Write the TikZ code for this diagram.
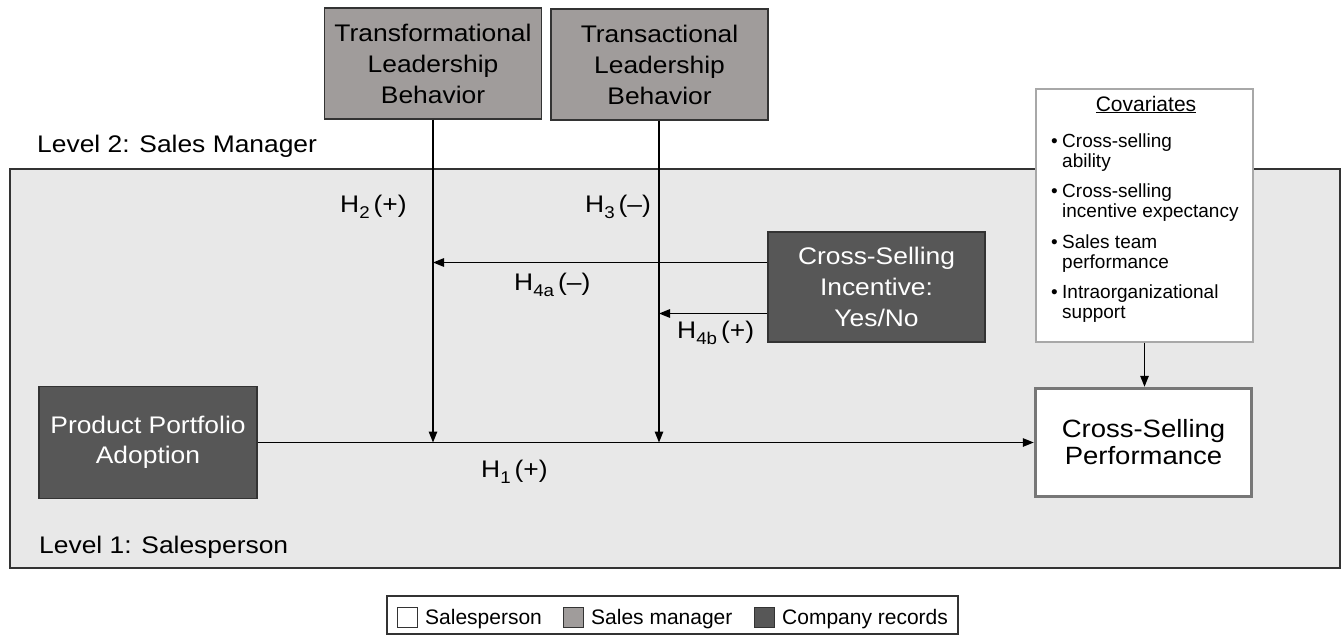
\documentclass[tikz,border=0pt]{standalone}
\usepackage{fontspec}
\setmainfont{Liberation Sans}
\newfontfamily\widefont{Liberation Sans}[FakeStretch=1.1]
\usetikzlibrary{arrows.meta}
\definecolor{lvlfill}{HTML}{E8E8E8}
\definecolor{mgrfill}{HTML}{A09C9B}
\definecolor{recfill}{HTML}{575757}
\definecolor{perfborder}{HTML}{777777}
\definecolor{covborder}{HTML}{A8A8A8}
\definecolor{edgegray}{HTML}{333333}
\newcommand\hsb[1]{\raisebox{-6pt}{\fontsize{17}{17}\selectfont #1}}
\begin{document}
\begin{tikzpicture}[x=1pt,y=-1pt,
  bigtxt/.style={font=\widefont\fontsize{24}{31}\selectfont, align=center},
  mgrbox/.style={draw=edgegray, line width=1.3pt, fill=mgrfill, bigtxt, text=black, minimum width=217pt, minimum height=111pt, inner sep=0pt},
  recbox/.style={draw=edgegray, line width=1.3pt, fill=recfill, bigtxt, text=white, inner sep=0pt},
  arr/.style={line width=1.4pt, -{Triangle[length=11pt,width=8.5pt]}},
  hlab/.style={font=\widefont\fontsize{24}{28}\selectfont, anchor=base west, inner sep=0pt},
  covtxt/.style={font=\fontsize{19}{20.5}\selectfont, align=left, anchor=base west, inner sep=0pt},
  bul/.style={font=\fontsize{19}{20.5}\selectfont, anchor=base east, inner sep=0pt},
  legsq/.style={draw=edgegray, line width=0.8pt, minimum width=20pt, minimum height=20pt, inner sep=0pt},
  legtxt/.style={font=\fontsize{21}{24}\selectfont, anchor=base west, inner sep=0pt}
]
\useasboundingbox (0,0) rectangle (1341,637);

% level 1 area
\draw[fill=lvlfill, draw=edgegray, line width=1.5pt] (10,169) rectangle (1340,568);
\node[hlab] (lv2) at (37,152) {Level 2: Sales Manager};
\node[hlab] (lv1) at (39,553) {Level 1: Salesperson};

% manager boxes
\node[mgrbox] (trf) at (433,63.5) {Transformational\\Leadership\\Behavior};
\node[mgrbox] (trs) at (659.5,64.5) {Transactional\\Leadership\\Behavior};

% company record boxes
\node[recbox, minimum width=218pt, minimum height=112pt, font=\widefont\fontsize{24}{30}\selectfont] (prod) at (148,442.5) {Product Portfolio\\Adoption};
\node[recbox, minimum width=217pt, minimum height=110pt] (inc) at (876.5,287) {Cross-Selling\\Incentive:\\Yes/No};

% outcome
\node[draw=perfborder, line width=3.5pt, fill=white, minimum width=216pt, minimum height=108pt, inner sep=0pt, align=center, font=\widefont\fontsize{25}{27}\selectfont] (perf) at (1143.5,442.5) {Cross-Selling\\Performance};

% covariates
\node[draw=covborder, line width=1.3pt, fill=white, minimum width=217pt, minimum height=253pt, inner sep=0pt] (cov) at (1144.5,215.5) {};
\node[font=\fontsize{21}{24}\selectfont, anchor=base, inner sep=0pt] (covt) at (1146,111) {\underline{Covariates}};
\node[bul] (b1) at (1058,147) {•};
\node[covtxt] (c1) at (1062,167.5) {Cross-selling\\ability};
\node[bul] (b2) at (1058,197) {•};
\node[covtxt] (c2) at (1062,217.5) {Cross-selling\\incentive expectancy};
\node[bul] (b3) at (1058,248) {•};
\node[covtxt] (c3) at (1062,268.5) {Sales team\\performance};
\node[bul] (b4) at (1058,298) {•};
\node[covtxt] (c4) at (1062,318.5) {Intraorganizational\\support};

% connectors
\draw[arr] (prod.east) -- (perf.west);
\draw[arr] (trf.south) -- (trf.south |- prod.east);
\draw[arr] (trs.south -| 659,0) -- (659,442.5);
\coordinate (ha) at (433,262.5);
\coordinate (hb) at (659,313.5);
\draw[arr] (inc.west |- ha) -- (ha);
\draw[arr] (inc.west |- hb) -- (hb);
\draw[arr] (cov.south) -- (cov.south |- perf.north);

% hypothesis labels
\node[hlab] (h2) at (340,212) {H\hsb{2}\hspace{4pt}(+)};
\node[hlab] (h3) at (585,212) {H\hsb{3}\hspace{4pt}(–)};
\node[hlab] (h4a) at (514,290) {H\hsb{4a}\hspace{4pt}(–)};
\node[hlab] (h4b) at (677,338) {H\hsb{4b}\hspace{4pt}(+)};
\node[hlab] (h1) at (481,477) {H\hsb{1}\hspace{4pt}(+)};

% legend
\draw[draw=edgegray, line width=1.2pt, fill=white] (387,596) rectangle (958,634);
\node[legsq, fill=white] (s1) at (407,617) {};
\node[legtxt] (t1) at (425,624) {Salesperson};
\node[legsq, fill=mgrfill] (s2) at (573,617) {};
\node[legtxt] (t2) at (591,624) {Sales manager};
\node[legsq, fill=recfill] (s3) at (764,617) {};
\node[legtxt] (t3) at (782,624) {Company records};
\end{tikzpicture}
\end{document}
